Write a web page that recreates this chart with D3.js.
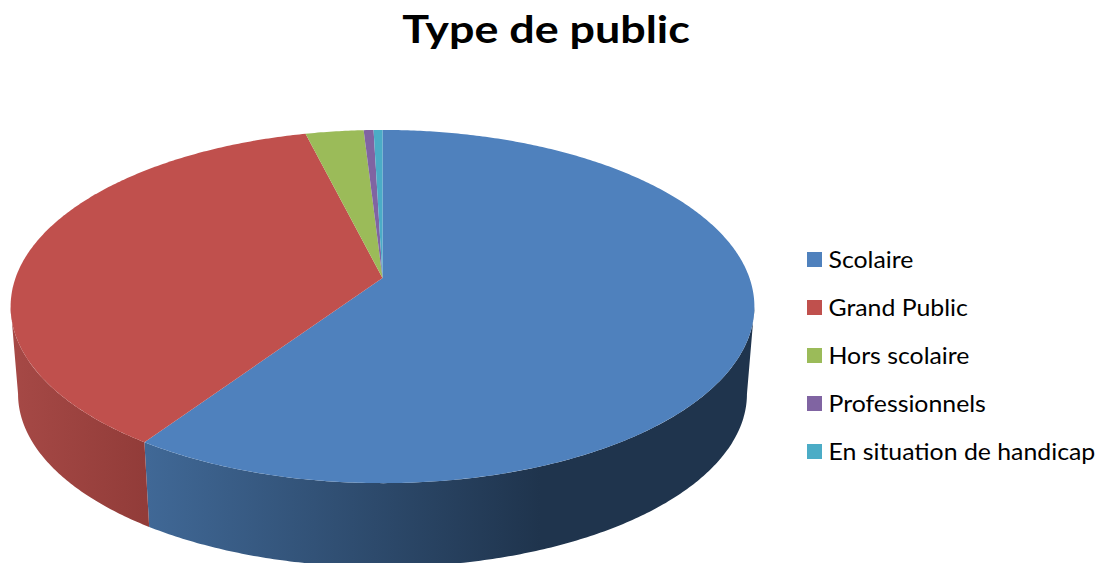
<!DOCTYPE html>
<html>
<head>
<meta charset="utf-8">
<script src="https://d3js.org/d3.v7.min.js"></script>
<style>
body {
  margin: 0;
  background-color: white;
}
text {
  font-family: Lato, "Open Sans", sans-serif;
  fill: black;
}
</style>
</head>
<body>
<script>
const categories = ["Scolaire", "Grand Public", "Hors scolaire", "Professionnels", "En situation de handicap"];
const values = [59.5, 36.6, 2.95, 0.5, 0.45];
const topColors = ["#4f81bd", "#c0504d", "#9bbb59", "#8064a2", "#4bacc6"];
const sideColors = [["#406896", "#1f344d"], ["#a64946", "#923c39"], ["#7d9647", "#7d9647"], ["#664f82", "#664f82"], ["#3c8a9e", "#3c8a9e"]];

const width = 1100;
const height = 563;
const k = 0.1615;   // perspective of the disc
const apex = {x: 382.5, y: 278};
const depth = 88;
const shrink = 0.98;

const svg = d3.select("body")
            .append("svg")
            .attr("width", width)
            .attr("height", height)
            .style("display", "block");

const xScale = d3.scaleLinear().domain([-1, 1]).range([apex.x - 367, apex.x + 367]);
const yScale = d3.scaleLinear().domain([-1, 1]).range([apex.y + 172, apex.y - 172]);

// pie angle (clockwise from the top) to a point on the rim
function rim(a) {
    const X = Math.sin(a);
    const Y = Math.cos(a);
    const w = 1 + k*Y;
    return [xScale(X/w), yScale(Y/w)];
}
function lowerRim(a) {
    const p = rim(a);
    return [apex.x + (p[0] - apex.x)*shrink, apex.y + depth + (p[1] - apex.y)*shrink];
}
function samples(a0, a1) {
    const n = Math.max(2, Math.ceil((a1 - a0)/0.01));
    return d3.range(n + 1).map(i => a0 + (a1 - a0)*i/n);
}

const pie = d3.pie().sort(null).value(d => d);
const slices = pie(values);
const line = d3.line();

// the wall is only seen between the left and right extremes of the disc
const wallStart = Math.acos(-k);
const wallEnd = 2*Math.PI - wallStart;

const defs = svg.append("defs");
slices.forEach((s, i) => {
    const a0 = Math.max(s.startAngle, wallStart);
    const a1 = Math.min(s.endAngle, wallEnd);
    if (a1 <= a0) return;
    const angles = samples(a0, a1);
    const xs = angles.map(a => rim(a)[0]);
    const grad = defs.append("linearGradient")
        .attr("id", `side${i}`)
        .attr("gradientUnits", "userSpaceOnUse")
        .attr("x1", i == 0 ? xScale(-0.64) : d3.min(xs))
        .attr("x2", i == 0 ? xScale(0.43) : d3.max(xs))
        .attr("y1", 0).attr("y2", 0);
    grad.append("stop").attr("offset", 0).attr("stop-color", sideColors[i][0]);
    grad.append("stop").attr("offset", 1).attr("stop-color", sideColors[i][1]);

    svg.append("path")
        .attr("fill", `url(#side${i})`)
        .attr("d", line(angles.map(rim).concat(angles.slice().reverse().map(lowerRim))) + "Z");
});

svg.selectAll("path.top").data(slices).enter()
   .append("path")
   .attr("class", "top")
   .attr("fill", (d, i) => topColors[i])
   .attr("d", d => line([[apex.x, apex.y]].concat(samples(d.startAngle, d.endAngle).map(rim))) + "Z");

svg.append("text")
   .attr("transform", "translate(546, 43) scale(1.15, 1)")
   .attr("text-anchor", "middle")
   .attr("font-size", 39)
   .attr("font-weight", 700)
   .text("Type de public");

const legendY = d3.scalePoint().domain(categories).range([259.5, 451.5]);
const legend = svg.selectAll("g.legend").data(categories).enter()
   .append("g")
   .attr("class", "legend")
   .attr("transform", d => `translate(807, ${legendY(d)})`);
legend.append("rect")
   .attr("x", 0).attr("y", -7.5)
   .attr("width", 15).attr("height", 15)
   .attr("fill", (d, i) => topColors[i]);
legend.append("text")
   .attr("transform", "translate(21.5, 8) scale(1.08, 1)")
   .attr("font-size", 23)
   .text(d => d);
</script>
</body>
</html>
